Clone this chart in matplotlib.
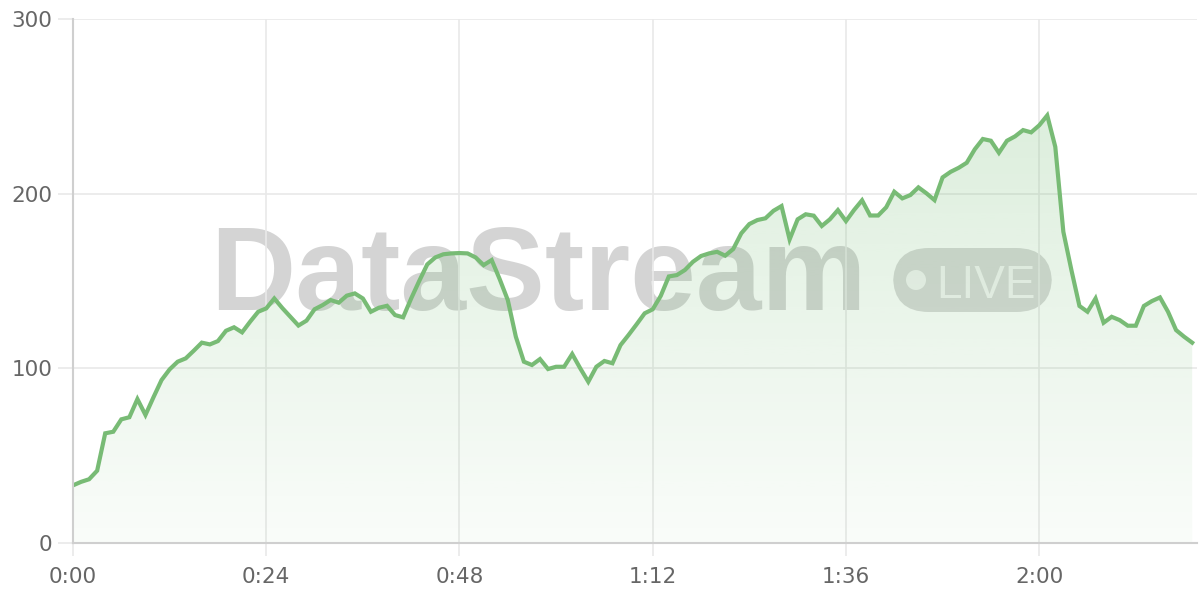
import numpy as np
import matplotlib.pyplot as plt
from matplotlib.patches import FancyBboxPatch, Ellipse

# 每秒一个采样点 (0..139 s)
values = [
    33, 35, 36.5, 41.4, 62.8, 63.7, 70.8, 72, 82.4, 73.3,
    83.5, 93.3, 99.4, 103.8, 105.7, 110.1, 114.7, 113.7, 115.6, 121.5,
    123.5, 120.6, 126.7, 132.4, 134.3, 140, 134.5, 129.5, 124.5, 127.3,
    133.8, 136.2, 139.1, 137.6, 141.6, 142.9, 140, 132.4, 134.7, 135.8,
    130.5, 129.2, 140, 150, 159.5, 163.5, 165.3, 165.8, 166, 165.8,
    163.5, 159.1, 162, 151, 139.1, 118.1, 103.8, 101.9, 105.3, 99.6,
    100.9, 100.9, 108.2, 100, 92.3, 100.9, 104.2, 102.9, 113.3, 119.1,
    125.2, 131.5, 133.8, 141.5, 152.6, 153.4, 156.3, 161, 164.3, 165.8,
    166.7, 164.5, 168.3, 177.3, 182.6, 184.9, 185.9, 190.2, 192.9, 173.8,
    185.3, 188.2, 187.4, 181.5, 185.3, 190.6, 184.3, 190.6, 196.2, 187.5,
    187.5, 192.2, 201.1, 197.3, 199.2, 203.6, 200.2, 196.3, 209.3, 212.5,
    214.8, 217.7, 225.4, 231.3, 230.3, 223.4, 230.3, 232.8, 236.4, 235.1,
    239.1, 244.8, 226.8, 178.2, 156.3, 135.7, 132.4, 140, 126.1, 129.5,
    127.6, 124.4, 124.4, 135.7, 138.5, 140.6, 132.4, 121.9, 118.1, 114.7,
]
seconds = np.arange(len(values))

x_ticks = [0, 24, 48, 72, 96, 120]
x_labels = ['0:00', '0:24', '0:48', '1:12', '1:36', '2:00']
y_ticks = [0, 100, 200, 300]

line_color = '#78bb75'
grid_color = '#e9e9e9'
spine_color = '#cfcfcf'
text_color = '#666666'

fig = plt.figure(figsize=(12, 6), dpi=100)
ax = fig.add_axes([73 / 1200, 57 / 600, 1124 / 1200, 524 / 600])
ax.set_zorder(1)
ax.patch.set_alpha(0)

# 水印 (在坐标轴下面)
fig.text(210 / 1200, 290 / 600, 'DataStream', fontsize=85, fontweight='bold',
         family='Liberation Sans', color='#d4d4d4',
         ha='left', va='baseline', zorder=0)
pill = FancyBboxPatch((893 / 1200, 288 / 600), 159 / 1200, 64 / 600,
                      boxstyle='round,pad=0,rounding_size=0.03',
                      transform=fig.transFigure, facecolor='#d8d8d8',
                      edgecolor='none', zorder=0, mutation_aspect=2)
fig.patches.append(pill)
fig.patches.append(Ellipse((916 / 1200, 320 / 600), 20 / 1200, 20 / 600,
                           transform=fig.transFigure, facecolor='#f4f4f4',
                           edgecolor='none', zorder=0.5))
fig.text(936 / 1200, 302 / 600, 'LIVE', fontsize=33, family='Liberation Sans',
         color='#f4f4f4', ha='left', va='baseline', zorder=0.5)

# 网格
for y in y_ticks:
    ax.axhline(y, color=grid_color, lw=1.2, zorder=1)
for x in x_ticks[1:]:
    ax.axvline(x, color=grid_color, lw=1.2, zorder=1)

# 渐变填充
fill = ax.fill_between(seconds, values, 0, color='none', zorder=2)
grad = np.zeros((256, 1, 4))
grad[:, 0, 0] = 120 / 255
grad[:, 0, 1] = 190 / 255
grad[:, 0, 2] = 120 / 255
grad[:, 0, 3] = np.linspace(0.3, 0.04, 256)
img = ax.imshow(grad, aspect='auto', extent=[0, 139.6, 0, 300],
                origin='upper', zorder=2)
img.set_clip_path(fill.get_paths()[0], transform=ax.transData)
ax.set_xlim(0, 139.6)
ax.set_ylim(0, 300)

ax.plot(seconds, values, color=line_color, lw=3, zorder=3,
        solid_joinstyle='miter')

for s in ['top', 'right']:
    ax.spines[s].set_visible(False)
for s in ['left', 'bottom']:
    ax.spines[s].set_color(spine_color)
    ax.spines[s].set_linewidth(1.5)
    ax.spines[s].set_zorder(4)

ax.set_xticks(x_ticks)
ax.set_xticklabels(x_labels)
ax.set_yticks(y_ticks)
ax.tick_params(axis='both', colors=grid_color, labelcolor=text_color,
               labelsize=15.5, width=1.2)
ax.tick_params(axis='y', length=11, pad=4)
ax.tick_params(axis='x', length=9, pad=8)

fig.savefig('out.png', dpi=100)
